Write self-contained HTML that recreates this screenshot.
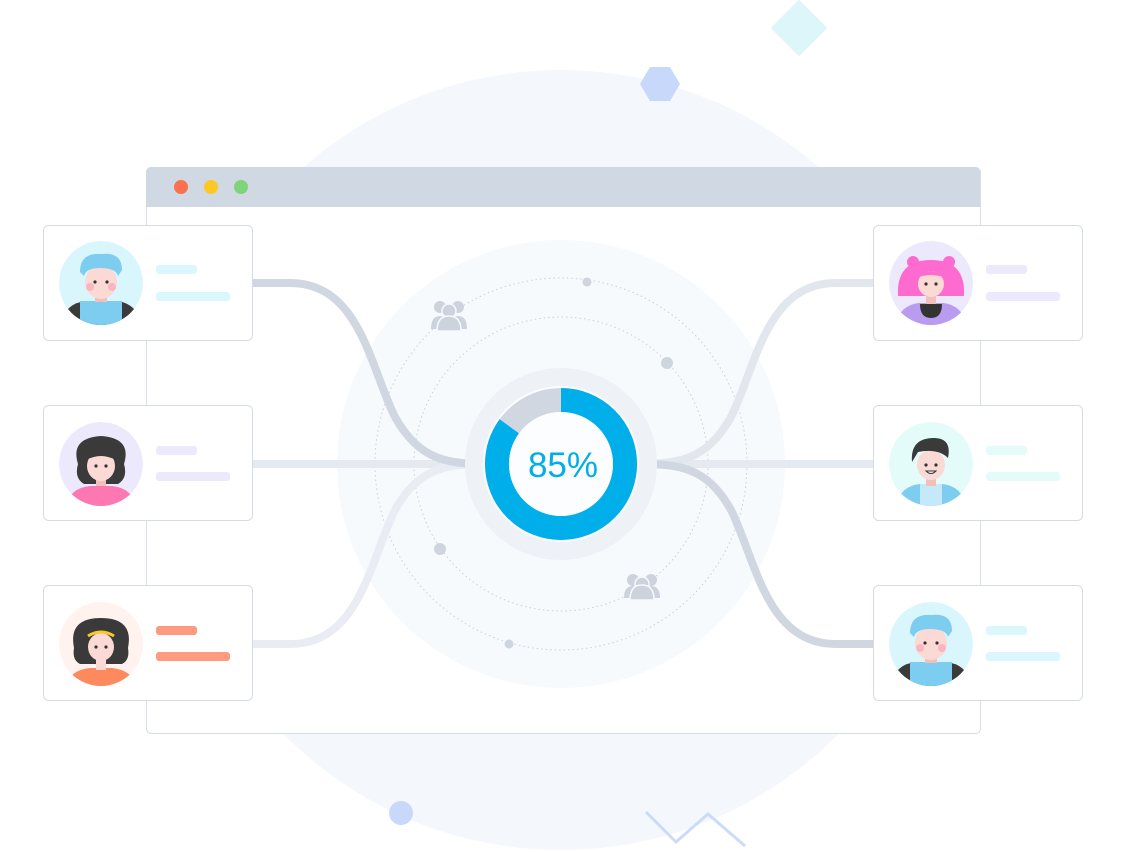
<!DOCTYPE html>
<html><head><meta charset="utf-8"><style>
html,body{margin:0;padding:0;background:#fff;}
svg{display:block;font-family:"Liberation Sans",sans-serif;}
</style></head><body>
<svg width="1126" height="852" viewBox="0 0 1126 852" xmlns="http://www.w3.org/2000/svg">
<defs>
<clipPath id="c1"><circle cx="101" cy="283" r="42"/></clipPath>
<clipPath id="c2"><circle cx="101" cy="464" r="42"/></clipPath>
<clipPath id="c3"><circle cx="101" cy="644" r="42"/></clipPath>
<clipPath id="c4"><circle cx="931" cy="283" r="42"/></clipPath>
<clipPath id="c5"><circle cx="931" cy="464" r="42"/></clipPath>
<clipPath id="c6"><circle cx="931" cy="644" r="42"/></clipPath>
</defs>
<circle cx="561" cy="460" r="390" fill="#f4f8fc"/>
<rect x="779" y="8" width="40" height="40" fill="#dcf6fa" transform="rotate(45 799 28)"/>
<polygon points="650,67 670,67 680,84 670,101 650,101 640,84" fill="#c8d8fb"/>
<circle cx="401" cy="813" r="12" fill="#c8d8fb"/>
<polyline points="646,812 676,842 708,814 745,846" fill="none" stroke="#cbdcfa" stroke-width="3"/>
<rect x="146.5" y="167.5" width="834" height="566" rx="5" fill="#fff" stroke="#d8dee8"/>
<path d="M146 172 a5 5 0 0 1 5 -5 h824 a5 5 0 0 1 5 5 v35 h-834z" fill="#d0d8e3"/>
<circle cx="181" cy="187" r="7" fill="#fb7150"/>
<circle cx="211" cy="187" r="7" fill="#fcc824"/>
<circle cx="241" cy="187" r="7" fill="#7fd37a"/>
<circle cx="561" cy="464" r="224" fill="#f6fafd"/>
<circle cx="561" cy="464" r="186" fill="none" stroke="#c9d0da" stroke-width="1" stroke-dasharray="1.5 3"/>
<circle cx="561" cy="464" r="147" fill="none" stroke="#c9d0da" stroke-width="1" stroke-dasharray="1.5 3"/>
<circle cx="587" cy="282" r="4.5" fill="#cfd5df"/>
<circle cx="667" cy="363" r="6" fill="#cfd5df"/>
<circle cx="440" cy="549" r="6" fill="#cfd5df"/>
<circle cx="509" cy="644" r="4.5" fill="#cfd5df"/>
<g fill="#cdd3dd">
<circle cx="440" cy="307" r="6"/><circle cx="458" cy="307" r="6"/><path d="M431 329 q0 -13 9 -13 q9 0 9 13z M449 329 q0 -13 9 -13 q9 0 9 13z"/>
<circle cx="449" cy="311" r="7" stroke="#f6fafd" stroke-width="1.5"/><path d="M437 331 q0 -15 12 -15 q12 0 12 15z" stroke="#f6fafd" stroke-width="1.5"/>
<circle cx="633" cy="580" r="6"/><circle cx="651" cy="580" r="6"/><path d="M624 598 q0 -12 9 -12 q9 0 9 12z M642 598 q0 -12 9 -12 q9 0 9 12z"/>
<circle cx="642" cy="584" r="7" stroke="#f6fafd" stroke-width="1.5"/><path d="M630 600 q0 -15 12 -15 q12 0 12 15z" stroke="#f6fafd" stroke-width="1.5"/>
</g>
<g fill="none" stroke-width="8" stroke-linecap="butt">
<path d="M253 464 H485" stroke="#e5eaf0"/>
<path d="M641 464 H873" stroke="#e5eaf0"/>
<path d="M253 644 H290 C360 644 370 560 395 510 C420 465 450 464 490 464" stroke="#e9edf3"/>
<path d="M873 283 H836 C766 283 756 367 731 417 C706 462 676 464 636 464" stroke="#e2e7ee"/>
<path d="M253 283 H290 C360 283 370 367 395 417 C420 462 450 464 490 464" stroke="#d0d7e1"/>
<path d="M873 644 H836 C766 644 756 560 731 510 C706 465 676 464 636 464" stroke="#d0d7e1"/>
</g>
<circle cx="561" cy="464" r="87" fill="none" stroke="#eef2f6" stroke-width="18"/>
<circle cx="561" cy="464" r="78" fill="#fbfdff"/>
<circle cx="561" cy="464" r="64" fill="none" stroke="#d0d7e1" stroke-width="24"/>
<circle cx="561" cy="464" r="64" fill="none" stroke="#00aeea" stroke-width="24" stroke-dasharray="341.8 402.1" transform="rotate(-90 561 464)"/>
<circle cx="561" cy="464" r="52" fill="#fbfdff"/>
<text x="563" y="477" text-anchor="middle" font-size="35" fill="#00aeea">85%</text>
<g fill="#fff" stroke="#d5dbe5">
<rect x="43.5" y="225.5" width="209" height="115" rx="5"/>
<rect x="43.5" y="405.5" width="209" height="115" rx="5"/>
<rect x="43.5" y="585.5" width="209" height="115" rx="5"/>
<rect x="873.5" y="225.5" width="209" height="115" rx="5"/>
<rect x="873.5" y="405.5" width="209" height="115" rx="5"/>
<rect x="873.5" y="585.5" width="209" height="115" rx="5"/>
</g>
<rect x="156" y="265" width="41" height="9" rx="3" fill="#d9f7fd"/><rect x="156" y="292" width="74" height="9" rx="3" fill="#d9f7fd"/>
<rect x="156" y="446" width="41" height="9" rx="3" fill="#ece9fd"/><rect x="156" y="472" width="74" height="9" rx="3" fill="#ece9fd"/>
<rect x="156" y="626" width="41" height="9" rx="3" fill="#fd9a80"/><rect x="156" y="652" width="74" height="9" rx="3" fill="#fd9a80"/>
<rect x="986" y="265" width="41" height="9" rx="3" fill="#ece9fd"/><rect x="986" y="292" width="74" height="9" rx="3" fill="#ece9fd"/>
<rect x="986" y="446" width="41" height="9" rx="3" fill="#e3fcfa"/><rect x="986" y="472" width="74" height="9" rx="3" fill="#e3fcfa"/>
<rect x="986" y="626" width="41" height="9" rx="3" fill="#d9f7fd"/><rect x="986" y="652" width="74" height="9" rx="3" fill="#d9f7fd"/>
<g clip-path="url(#c1)">
<circle cx="101" cy="283" r="42" fill="#daf6fd"/>
<path d="M60 325 q5 -22 26 -24 h30 q21 2 26 24z" fill="#3a3a3a"/>
<path d="M80 325 v-24 h42 v24z" fill="#7ccdf0"/>
<rect x="95" y="290" width="12" height="12" fill="#f2c0b8"/>
<ellipse cx="101" cy="282" rx="16" ry="17" fill="#fbd9d5"/>
<path d="M80 272 q0 -20 22 -18 q20 -2 20 16 l-4 6 q-2 -8 -18 -8 q-14 0 -16 8z" fill="#7ccdf0"/>
<circle cx="95" cy="282" r="1.6" fill="#333"/><circle cx="107" cy="282" r="1.6" fill="#333"/>
<circle cx="90" cy="287" r="4" fill="#f9b5c0"/><circle cx="112" cy="287" r="4" fill="#f9b5c0"/>
</g>
<g clip-path="url(#c2)">
<circle cx="101" cy="464" r="42" fill="#ece9fd"/>
<path d="M78 464 q-8 -26 23 -28 q31 2 23 28 q4 14 -6 20 h-34 q-10 -6 -6 -20z" fill="#3a3a3a"/>
<path d="M66 506 q4 -18 24 -20 h22 q20 2 24 20z" fill="#fd77b2"/>
<rect x="96" y="472" width="10" height="14" fill="#f2c0b8"/>
<ellipse cx="101" cy="466" rx="14" ry="15" fill="#fbd9d5"/>
<path d="M86 460 q4 -12 15 -12 q11 0 15 12 q-8 -4 -15 -4 q-7 0 -15 4z" fill="#3a3a3a"/>
<circle cx="96" cy="466" r="1.6" fill="#333"/><circle cx="106" cy="466" r="1.6" fill="#333"/>
</g>
<g clip-path="url(#c3)">
<circle cx="101" cy="644" r="42" fill="#fff2ef"/>
<path d="M74 648 q-6 -30 27 -30 q33 0 27 30 q2 12 -6 16 h-42 q-8 -4 -6 -16z" fill="#3a3a3a"/>
<path d="M66 686 q4 -16 24 -18 h22 q20 2 24 18z" fill="#fd8a5e"/>
<rect x="96" y="654" width="10" height="16" fill="#fbd9d5"/>
<ellipse cx="101" cy="647" rx="13" ry="14" fill="#fbd9d5"/>
<path d="M88 636 q13 -8 26 0" stroke="#fcc824" stroke-width="3" fill="none"/>
<circle cx="96" cy="647" r="1.6" fill="#333"/><circle cx="106" cy="647" r="1.6" fill="#333"/>
</g>
<g clip-path="url(#c4)">
<circle cx="931" cy="283" r="42" fill="#ece9fd"/>
<path d="M898 296 q-2 -36 33 -36 q35 0 33 36z" fill="#fd6ad0"/>
<circle cx="913" cy="262" r="6" fill="#fd6ad0"/><circle cx="949" cy="262" r="6" fill="#fd6ad0"/>
<path d="M895 325 q5 -20 24 -22 h24 q19 2 24 22z" fill="#b99cf0"/>
<path d="M920 304 h22 q0 14 -11 14 q-11 0 -11 -14z" fill="#333"/>
<rect x="926" y="292" width="10" height="12" fill="#f2c0b8"/>
<ellipse cx="931" cy="284" rx="13" ry="13" fill="#fbd9d5"/>
<path d="M916 278 q15 -14 30 0 q-15 -6 -30 0z" fill="#fd6ad0"/>
<circle cx="926" cy="284" r="1.6" fill="#333"/><circle cx="936" cy="284" r="1.6" fill="#333"/>
</g>
<g clip-path="url(#c5)">
<circle cx="931" cy="464" r="42" fill="#e3fcfa"/>
<path d="M896 506 q4 -20 24 -22 h22 q20 2 24 22z" fill="#7ccdf0"/>
<rect x="920" y="484" width="22" height="22" fill="#c5e8fb"/>
<rect x="926" y="472" width="10" height="14" fill="#f2c0b8"/>
<ellipse cx="931" cy="465" rx="14" ry="15" fill="#fbd9d5"/>
<path d="M912 462 q-2 -24 22 -24 q18 0 14 20 q-10 -10 -30 -6z" fill="#3a3a3a"/>
<circle cx="926" cy="465" r="1.6" fill="#333"/><circle cx="936" cy="465" r="1.6" fill="#333"/>
<path d="M926 471 q5 5 10 0z" fill="#fff" stroke="#333" stroke-width="1"/>
</g>
<g clip-path="url(#c6)">
<circle cx="931" cy="644" r="42" fill="#daf6fd"/>
<path d="M890 686 q5 -22 26 -24 h30 q21 2 26 24z" fill="#3a3a3a"/>
<path d="M910 686 v-24 h42 v24z" fill="#7ccdf0"/>
<rect x="925" y="651" width="12" height="12" fill="#f2c0b8"/>
<ellipse cx="931" cy="643" rx="16" ry="17" fill="#fbd9d5"/>
<path d="M910 633 q0 -20 22 -18 q20 -2 20 16 l-4 6 q-2 -8 -18 -8 q-14 0 -16 8z" fill="#7ccdf0"/>
<circle cx="925" cy="643" r="1.6" fill="#333"/><circle cx="937" cy="643" r="1.6" fill="#333"/>
<circle cx="920" cy="648" r="4" fill="#f9b5c0"/><circle cx="942" cy="648" r="4" fill="#f9b5c0"/>
</g>
</svg>
</body></html>
